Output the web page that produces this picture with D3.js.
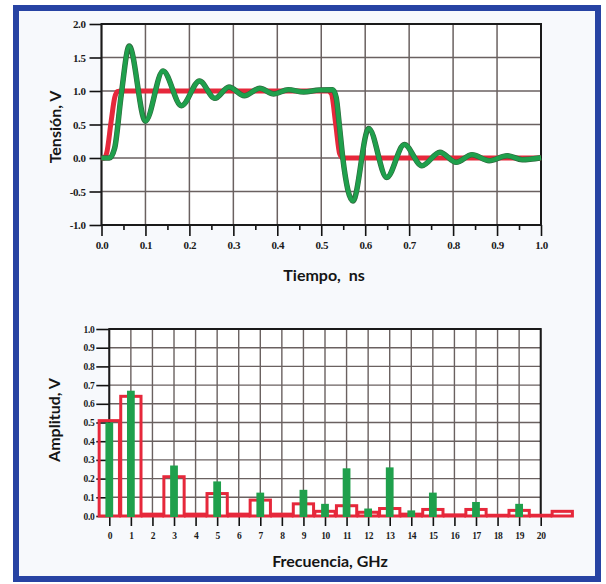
<!DOCTYPE html>
<html>
<head>
<meta charset="utf-8">
<script src="https://cdn.jsdelivr.net/npm/d3@7"></script>
<style>
body { margin: 0; background: #fff; }
svg { display: block; }
.tick text { font-family: "Liberation Serif", serif; font-weight: bold; fill: #1b1b1b; letter-spacing: -0.4px; }
.tick line { stroke: #111; stroke-width: 1.6; }
.title { font-family: Lato, sans-serif; font-weight: bold; fill: #151515; font-size: 16px; }
</style>
</head>
<body>
<script>
// top panel: pulse in time
var timeTicks = [0, 0.1, 0.2, 0.3, 0.4, 0.5, 0.6, 0.7, 0.8, 0.9, 1.0];
var timeMinor = [0.05, 0.15, 0.25, 0.35, 0.45, 0.55, 0.65, 0.75, 0.85, 0.95];
var voltTicks = [-1.0, -0.5, 0.0, 0.5, 1.0, 1.5, 2.0];

// ideal pulse (red)
var idealT = [0, 0.006, 0.012, 0.022, 0.030, 0.036, 0.045, 0.515, 0.523, 0.533, 0.542, 0.549, 1.0];
var idealV = [0, 0, 0.08, 0.55, 0.9, 0.99, 1.0, 1.0, 0.96, 0.5, 0.06, 0, 0];

// ringing pulse (green)
var ringT = [0, 0.018, 0.03, 0.045, 0.063, 0.1, 0.14, 0.182, 0.223, 0.258, 0.29, 0.325, 0.36, 0.392,
             0.425, 0.46, 0.495, 0.526, 0.534, 0.541, 0.549, 0.572, 0.608, 0.649, 0.689, 0.729,
             0.77, 0.807, 0.843, 0.882, 0.923, 0.957, 1.0];
var ringV = [0, 0, 0.15, 0.95, 1.67, 0.55, 1.30, 0.78, 1.15, 0.89, 1.06, 0.93, 1.04, 0.955,
             1.02, 0.985, 1.015, 1.02, 0.9, 0.5, 0.0, -0.64, 0.44, -0.29, 0.2, -0.115,
             0.085, -0.065, 0.05, -0.04, 0.035, -0.025, 0.005];

// bottom panel: spectrum
var freqTicks = [0, 1, 2, 3, 4, 5, 6, 7, 8, 9, 10, 11, 12, 13, 14, 15, 16, 17, 18, 19, 20];
var ampTicks = [0, 0.1, 0.2, 0.3, 0.4, 0.5, 0.6, 0.7, 0.8, 0.9, 1.0];
var envBins = [0, 1, 2, 3, 4, 5, 6, 7, 8, 9, 10, 11, 12, 13, 14, 15, 16, 17, 18, 19, 20, 21];
var envAmp = [0.51, 0.64, 0.01, 0.21, 0.01, 0.12, 0.01, 0.085, 0.01, 0.065, 0.025, 0.055, 0.02,
              0.04, 0.01, 0.035, 0.006, 0.035, 0.004, 0.03, 0.004, 0.025];
var lineFreq = [0, 1, 3, 5, 7, 9, 10, 11, 12, 13, 14, 15, 17, 19];
var lineAmp = [0.5, 0.67, 0.27, 0.185, 0.125, 0.14, 0.065, 0.255, 0.04, 0.26, 0.03, 0.125, 0.075, 0.065];

var red = "#e6283b", green = "#1fa04c", gridCol = "#6a6160";

var svg = d3.select("body").append("svg")
    .attr("width", 606)
    .attr("height", 584);

// blue frame
svg.append("rect")
    .attr("x", 16).attr("y", 8)
    .attr("width", 582).attr("height", 571)
    .attr("fill", "#f7f9fc")
    .attr("stroke", "#2743a3")
    .attr("stroke-width", 6);

function fmt(d) { return d.toFixed(1); }

//------------- top chart
var xT = d3.scaleLinear().domain([0, 1]).range([101.5, 541]);
var yT = d3.scaleLinear().domain([-1, 2]).range([225, 24]);

var topG = svg.append("g");
topG.append("rect")
    .attr("x", xT(0)).attr("y", yT(2))
    .attr("width", xT(1) - xT(0)).attr("height", yT(-1) - yT(2))
    .attr("fill", "#fff");

topG.selectAll(".vgrid").data(timeTicks).enter().append("line")
    .attr("x1", d => xT(d)).attr("x2", d => xT(d))
    .attr("y1", yT(2)).attr("y2", yT(-1))
    .attr("stroke", gridCol).attr("stroke-width", 1.5);
topG.selectAll(".hgrid").data(voltTicks).enter().append("line")
    .attr("x1", xT(0)).attr("x2", xT(1))
    .attr("y1", d => yT(d)).attr("y2", d => yT(d))
    .attr("stroke", gridCol).attr("stroke-width", 1.5);

topG.append("g")
    .attr("transform", "translate(" + xT(0) + ",0)")
    .call(d3.axisLeft(yT).tickValues(voltTicks).tickSize(12).tickPadding(4).tickFormat(fmt))
    .call(g => g.select(".domain").remove())
    .selectAll("text").style("font-size", "11px");
topG.append("g")
    .attr("transform", "translate(0," + yT(-1) + ")")
    .call(d3.axisBottom(xT).tickValues(timeTicks).tickSize(11).tickPadding(5).tickFormat(fmt))
    .call(g => g.select(".domain").remove())
    .selectAll("text").style("font-size", "11px");
topG.append("g")
    .attr("transform", "translate(0," + yT(-1) + ")")
    .call(d3.axisBottom(xT).tickValues(timeMinor).tickSize(5).tickFormat(""))
    .call(g => g.select(".domain").remove());

topG.append("rect")
    .attr("x", xT(0)).attr("y", yT(2))
    .attr("width", xT(1) - xT(0)).attr("height", yT(-1) - yT(2))
    .attr("fill", "none").attr("stroke", "#1a1a1a").attr("stroke-width", 2);

var line = d3.line()
    .x(d => xT(d[0]))
    .y(d => yT(d[1]))
    .curve(d3.curveMonotoneX);

topG.append("path")
    .datum(idealT.map((t, i) => [t, idealV[i]]))
    .attr("d", line)
    .attr("fill", "none").attr("stroke", red).attr("stroke-width", 5);

var ringData = ringT.map((t, i) => [t, ringV[i]]);
topG.append("path")
    .datum(ringData)
    .attr("d", line)
    .attr("fill", "none").attr("stroke", "#2f6b3f").attr("stroke-width", 5.5);
topG.append("path")
    .datum(ringData)
    .attr("d", line)
    .attr("fill", "none").attr("stroke", green).attr("stroke-width", 4.2);

svg.append("text").attr("class", "title")
    .attr("x", 324).attr("y", 281)
    .attr("text-anchor", "middle")
    .attr("xml:space", "preserve")
    .text("Tiempo,  ns");
svg.append("text").attr("class", "title")
    .attr("transform", "translate(61,127) rotate(-90)")
    .attr("text-anchor", "middle")
    .text("Tensión, V");

//------------- bottom chart
var xB = d3.scaleLinear().domain([0, 20]).range([109.3, 540.7]);
var yB = d3.scaleLinear().domain([0, 1]).range([516, 329]);

var botG = svg.append("g");
botG.append("rect")
    .attr("x", xB(0)).attr("y", yB(1))
    .attr("width", xB(20) - xB(0)).attr("height", yB(0) - yB(1))
    .attr("fill", "#fff");

botG.selectAll(".vgrid").data(freqTicks).enter().append("line")
    .attr("x1", d => xB(d)).attr("x2", d => xB(d))
    .attr("y1", yB(1)).attr("y2", yB(0))
    .attr("stroke", gridCol).attr("stroke-width", 1.4);
botG.selectAll(".hgrid").data(ampTicks).enter().append("line")
    .attr("x1", xB(0)).attr("x2", xB(20))
    .attr("y1", d => yB(d)).attr("y2", d => yB(d))
    .attr("stroke", gridCol).attr("stroke-width", 1.4);

botG.append("g")
    .attr("transform", "translate(" + xB(0) + ",0)")
    .call(d3.axisLeft(yB).tickValues(ampTicks).tickSize(13).tickPadding(2).tickFormat(fmt))
    .call(g => g.select(".domain").remove())
    .selectAll("text").style("font-size", "9.5px");
botG.append("g")
    .attr("transform", "translate(0," + yB(0) + ")")
    .call(d3.axisBottom(xB).tickValues(freqTicks).tickSize(10).tickPadding(6).tickFormat(d3.format("d")))
    .call(g => g.select(".domain").remove())
    .selectAll("text").style("font-size", "9.5px");

botG.append("rect")
    .attr("x", xB(0)).attr("y", yB(1))
    .attr("width", xB(20) - xB(0)).attr("height", yB(0) - yB(1))
    .attr("fill", "none").attr("stroke", "#1a1a1a").attr("stroke-width", 2);

// red envelope boxes
botG.selectAll(".env").data(envBins).enter().append("rect")
    .attr("x", d => xB(d - 0.47))
    .attr("width", xB(0.94) - xB(0))
    .attr("y", (d, i) => yB(envAmp[i]))
    .attr("height", (d, i) => yB(0) - yB(envAmp[i]))
    .attr("fill", "none").attr("stroke", red).attr("stroke-width", 3);

// green spectral lines
var barW = xB(0.36) - xB(0);
botG.selectAll(".bar").data(lineFreq).enter().append("rect")
    .attr("x", d => xB(d) - barW / 2)
    .attr("width", barW)
    .attr("y", (d, i) => yB(lineAmp[i]))
    .attr("height", (d, i) => yB(0) - yB(lineAmp[i]) + 1)
    .attr("fill", green);

svg.append("text").attr("class", "title")
    .attr("x", 330).attr("y", 567)
    .attr("text-anchor", "middle")
    .text("Frecuencia, GHz");
svg.append("text").attr("class", "title")
    .attr("transform", "translate(60,420) rotate(-90)")
    .attr("text-anchor", "middle")
    .text("Amplitud, V");
</script>
</body>
</html>
